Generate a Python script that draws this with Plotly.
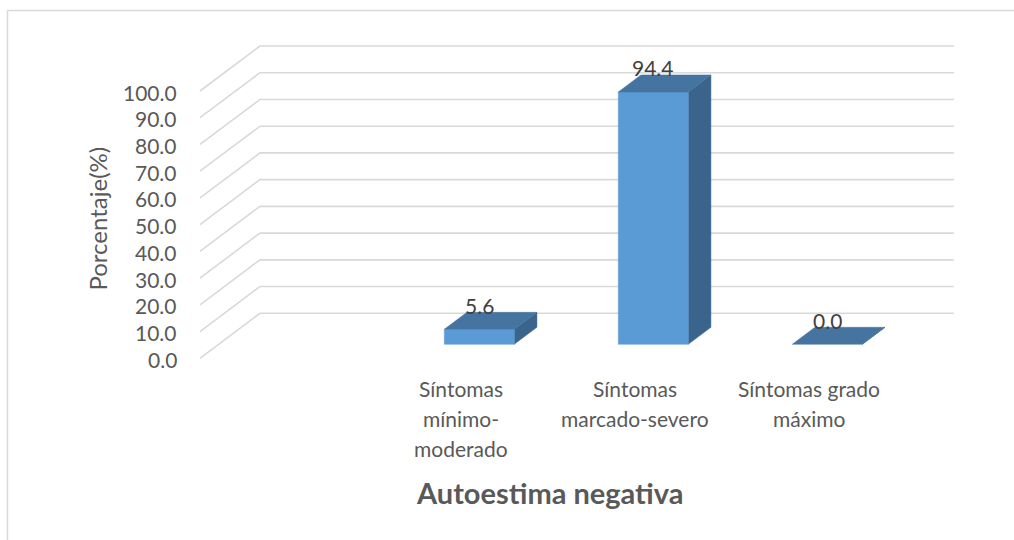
import plotly.graph_objects as go

# Data
categories = ["Síntomas\nmínimo-\nmoderado", "Síntomas\nmarcado-severo", "Síntomas grado\nmáximo"]
values = [5.6, 94.4, 0.0]
tick_values = [0, 10, 20, 30, 40, 50, 60, 70, 80, 90, 100]
tick_labels = ["0.0", "10.0", "20.0", "30.0", "40.0", "50.0", "60.0", "70.0", "80.0", "90.0", "100.0"]
y_title = "Porcentaje(%)"
x_title = "Autoestima negativa"

# Oblique projection: depth 0 = front edge of the floor, depth 1 = back wall
DEPTH_DX = 60 / 174          # category units per unit of depth
DEPTH_DY = 45 / 2.673        # value units per unit of depth
WALL_LEFT = -1.498           # left edge of the floor (front)
WALL_RIGHT = 2.49            # right edge of the back wall (front-equivalent)
BAR_HALF = 0.201
BAR_D0, BAR_D1 = 0.311, 0.689

FRONT = "#5B9BD5"
TOP = "#4674A0"
SIDE = "#3A648C"
GRID = "#D9D9D9"
FONT = "Lato"
LABEL_SIZE = 21
LINE_GAP = 30


def proj(x, v, d):
    return x + d * DEPTH_DX, v + d * DEPTH_DY


fig = go.Figure()

# Walls: side-wall diagonals and back-wall gridlines
gx, gy = [], []
for v in tick_values:
    a = proj(WALL_LEFT, v, 0)
    b = proj(WALL_LEFT, v, 1)
    c = proj(WALL_RIGHT, v, 1)
    gx += [a[0], b[0], c[0], None]
    gy += [a[1], b[1], c[1], None]
fig.add_trace(go.Scatter(x=gx, y=gy, mode="lines", line=dict(color=GRID, width=1.6),
                         hoverinfo="skip", showlegend=False))


def face(pts, color):
    xs = [p[0] for p in pts] + [pts[0][0]]
    ys = [p[1] for p in pts] + [pts[0][1]]
    fig.add_trace(go.Scatter(x=xs, y=ys, mode="lines", fill="toself", fillcolor=color,
                             line=dict(color=color, width=0.5), hoverinfo="skip",
                             showlegend=False))


for i, v in enumerate(values):
    l, r = i - BAR_HALF, i + BAR_HALF
    # right side face
    face([proj(r, 0, BAR_D0), proj(r, v, BAR_D0), proj(r, v, BAR_D1), proj(r, 0, BAR_D1)], SIDE)
    # front face
    if v > 0:
        face([proj(l, 0, BAR_D0), proj(r, 0, BAR_D0), proj(r, v, BAR_D0), proj(l, v, BAR_D0)], FRONT)
    # top face
    face([proj(l, v, BAR_D0), proj(r, v, BAR_D0), proj(r, v, BAR_D1), proj(l, v, BAR_D1)], TOP)

annotations = []

# Data labels
for i, v in enumerate(values):
    x, _ = proj(i, v, BAR_D0)
    _, y = proj(i, v, BAR_D1)
    annotations.append(dict(x=x, y=y, text=f"{v:.1f}", showarrow=False, xanchor="center",
                            yanchor="middle", yshift=7,
                            font=dict(family=FONT, size=LABEL_SIZE, color="#404040")))

# Value axis labels on the front edge
for v, t in zip(tick_values, tick_labels):
    annotations.append(dict(x=WALL_LEFT, y=v, text=t, showarrow=False, xanchor="right",
                            yanchor="middle", xshift=-21, yshift=-1,
                            font=dict(family=FONT, size=LABEL_SIZE, color="#595959")))

# Category labels under the floor, one annotation per line
for i, c in enumerate(categories):
    for k, line in enumerate(c.split("\n")):
        annotations.append(dict(x=i, y=0, text=line, showarrow=False, xanchor="center",
                                yanchor="middle", yshift=-30 - LINE_GAP * k,
                                font=dict(family=FONT, size=LABEL_SIZE, color="#595959")))

# Axis titles
annotations.append(dict(x=WALL_LEFT, y=50, text=y_title, showarrow=False, textangle=-90,
                        xanchor="center", yanchor="middle", xshift=-102, yshift=6,
                        font=dict(family=FONT, size=24, color="#595959")))
annotations.append(dict(x=549 / 1014, y=1 - 492 / 540, xref="paper", yref="paper",
                        text=f"<b>{x_title}</b>", showarrow=False, xanchor="center",
                        yanchor="middle", font=dict(family=FONT, size=29, color="#595959")))

# Chart-area border (left and top edges visible)
shapes = [
    dict(type="line", xref="paper", yref="paper", x0=7.5 / 1014, x1=7.5 / 1014,
         y0=-0.05, y1=1 - 10.5 / 540, line=dict(color=GRID, width=1.5)),
    dict(type="line", xref="paper", yref="paper", x0=7.5 / 1014, x1=1.05,
         y0=1 - 10.5 / 540, y1=1 - 10.5 / 540, line=dict(color=GRID, width=1.5)),
]

fig.update_layout(
    width=1014, height=540, autosize=False,
    margin=dict(l=0, r=0, t=0, b=0, pad=0),
    paper_bgcolor="white", plot_bgcolor="white",
    xaxis=dict(range=[-460.6 / 174, (1014 - 460.6) / 174], visible=False, fixedrange=True),
    yaxis=dict(range=[(358.3 - 540) / 2.673, 358.3 / 2.673], visible=False, fixedrange=True),
    annotations=annotations, shapes=shapes, showlegend=False,
)

fig.write_html("out.html")
